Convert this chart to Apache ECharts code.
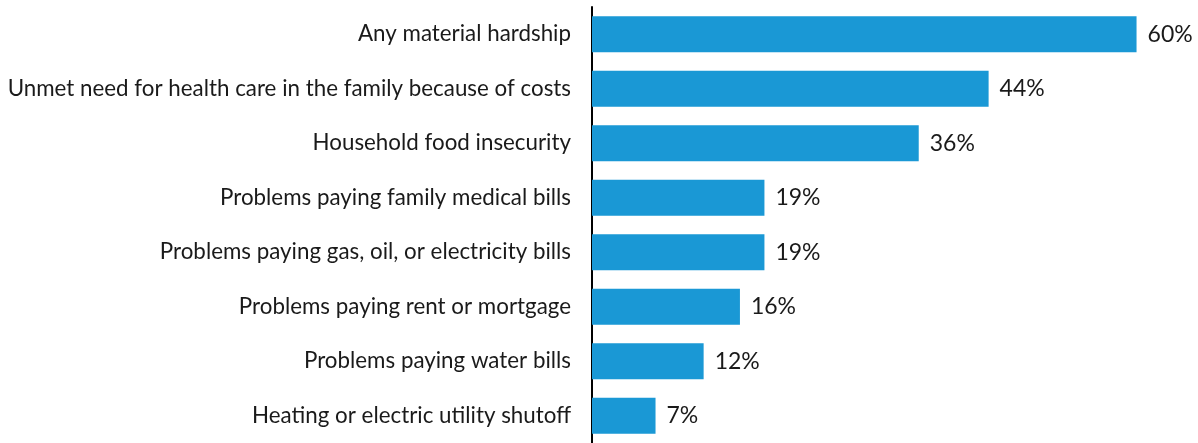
<!DOCTYPE html>
<html><head><meta charset="utf-8">
<script src="https://cdn.jsdelivr.net/npm/echarts@6/dist/echarts.min.js"></script>
<style>html,body{margin:0;padding:0;background:#fff}#c{width:1198px;height:443px}</style>
</head><body><div id="c"></div>
<script>
const categories = [
  "Any material hardship",
  "Unmet need for health care in the family because of costs",
  "Household food insecurity",
  "Problems paying family medical bills",
  "Problems paying gas, oil, or electricity bills",
  "Problems paying rent or mortgage",
  "Problems paying water bills",
  "Heating or electric utility shutoff"
];
const values = [60, 43.7, 36, 19, 19, 16.3, 12.3, 7];
const valueLabels = ["60%", "44%", "36%", "19%", "19%", "16%", "12%", "7%"];

const chart = echarts.init(document.getElementById('c'), null, {renderer: 'canvas'});
chart.setOption({
  animation: false,
  grid: {left: 592, right: 7, top: 7, height: 445, containLabel: false},
  xAxis: {type: 'value', min: 0, max: 66, show: false},
  yAxis: {
    type: 'category', data: categories, inverse: true,
    axisLine: {show: true, lineStyle: {color: '#000', width: 2}},
    axisTick: {show: false},
    axisLabel: {fontFamily: 'Lato', fontSize: 22.35, color: '#1a1a1a', margin: 21}
  },
  series: [{
    type: 'bar', data: values, barCategoryGap: '34%',
    itemStyle: {color: '#1a98d5'},
    label: {show: true, position: 'right', distance: 11,
      formatter: p => valueLabels[p.dataIndex],
      fontFamily: 'Lato', fontSize: 23, color: '#1a1a1a'}
  }]
});
</script></body></html>
